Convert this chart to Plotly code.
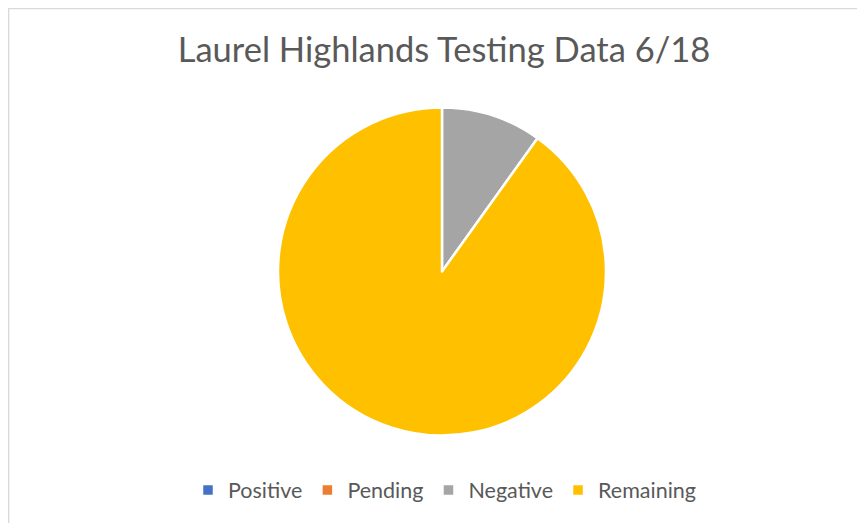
import plotly.graph_objects as go

labels = ["Positive", "Pending", "Negative", "Remaining"]
values = [0, 0, 9.9, 90.1]
colors = ["#4472C4", "#ED7D31", "#A5A5A5", "#FFC000"]

W, H = 865, 523
fig = go.Figure(go.Pie(
    labels=labels, values=values, sort=False, direction="clockwise", rotation=0,
    marker=dict(colors=colors, line=dict(color="white", width=2.5)),
    textinfo="none", hoverinfo="label+value",
    domain=dict(x=[270/W, 598/W], y=[1-428/H, 1-99/H]),
    showlegend=True,
))

fig.update_layout(
    width=W, height=H,
    margin=dict(l=0, r=0, t=0, b=0),
    paper_bgcolor="white",
    title=dict(text="Laurel Highlands Testing Data 6/18", x=436/W, xanchor="center",
               y=1-42/H, yanchor="middle",
               font=dict(family="Lato", size=34.5, color="#595959")),
    legend=dict(orientation="h", x=437/W, xanchor="center", y=1-482/H, yanchor="middle",
                font=dict(family="Lato", size=21.5, color="#595959"),
                itemwidth=30, traceorder="normal"),
    shapes=[dict(type="rect", xref="paper", yref="paper", x0=0.0008, x1=1.02, y0=-0.02, y1=0.999,
                 line=dict(color="#D9D9D9", width=1.3))],
)

fig.write_html("out.html")
